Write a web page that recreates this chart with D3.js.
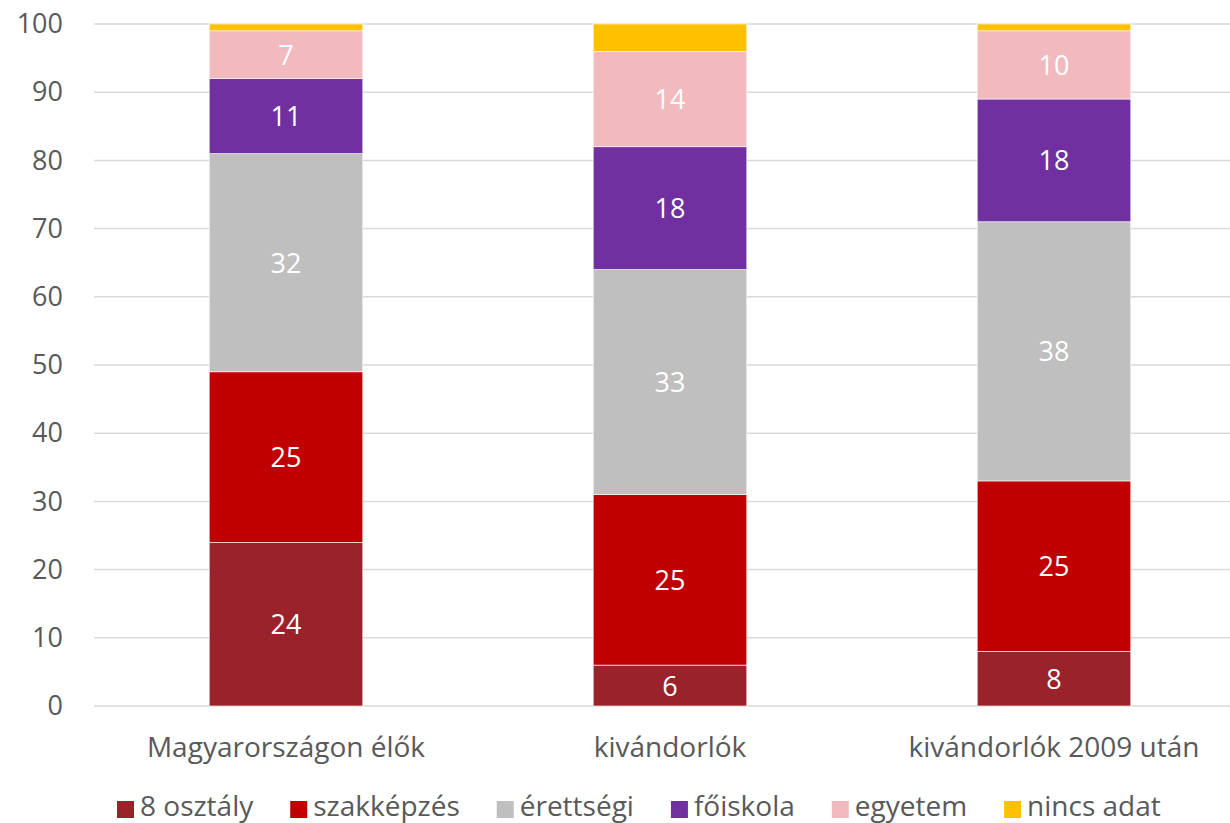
<!DOCTYPE html>
<html>
<head>
<meta charset="utf-8">
<script src="https://cdn.jsdelivr.net/npm/d3@7"></script>
<style>
  body { margin: 0; background: #fff; }
  svg { font-family: "Open Sans", "Noto Sans", sans-serif; }
</style>
</head>
<body>
<div class="chart"></div>
<script>
// data
var categories = ["Magyarországon élők", "kivándorlók", "kivándorlók 2009 után"];
var series = ["8 osztály", "szakképzés", "érettségi", "főiskola", "egyetem", "nincs adat"];
var osztaly8   = [24, 6, 8];
var szakkepzes = [25, 25, 25];
var erettsegi  = [32, 33, 38];
var foiskola   = [11, 18, 18];
var egyetem    = [7, 14, 10];
var nincsAdat  = [1, 4, 1];
var yTicks = [0, 10, 20, 30, 40, 50, 60, 70, 80, 90, 100];
var colors = ["#9a222b", "#c00000", "#bfbfbf", "#7030a0", "#f0babe", "#ffc000"];

var values = [osztaly8, szakkepzes, erettsegi, foiskola, egyetem, nincsAdat];
var rows = categories.map(function(c, i) {
  var r = { cat: c };
  series.forEach(function(s, j) { r[s] = values[j][i]; });
  return r;
});

var W = 1230, H = 823;
var margin = {top: 24, left: 94, bottom: 117};

var svg = d3.select(".chart").append("svg")
    .attr("width", W).attr("height", H);

var x = d3.scaleBand().domain(categories).range([margin.left, margin.left + 384 * 3])
    .paddingInner(0.6).paddingOuter(0.3);
var y = d3.scaleLinear().domain([0, 100]).range([H - margin.bottom, margin.top]);

// gridlines
svg.append("g").selectAll("line").data(yTicks).enter().append("line")
    .attr("x1", margin.left).attr("x2", W)
    .attr("y1", function(d) { return y(d); }).attr("y2", function(d) { return y(d); })
    .style("stroke", "#d9d9d9").style("stroke-width", 1.5);

// y axis labels
var yAxis = svg.append("g")
    .attr("transform", "translate(" + (margin.left - 31) + ",0)")
    .call(d3.axisLeft(y).tickValues(yTicks).tickSize(0).tickPadding(0));
yAxis.select(".domain").remove();
yAxis.selectAll("text").style("font-size", "27px").style("fill", "#595959")
    .style("font-family", "'Open Sans', 'Noto Sans', sans-serif");

// stacked bars
var stack = d3.stack().keys(series)(rows);
var layer = svg.selectAll(".layer").data(stack).enter().append("g")
    .attr("class", "layer")
    .style("fill", function(d, i) { return colors[i]; });

layer.selectAll("rect").data(function(d) { return d; }).enter().append("rect")
    .attr("x", function(d) { return x(d.data.cat); })
    .attr("width", x.bandwidth())
    .attr("y", function(d) { return y(d[1]); })
    .attr("height", function(d) { return y(d[0]) - y(d[1]); })
    .style("stroke", "#fff").style("stroke-width", 0.6);

// data labels (not for "nincs adat")
layer.filter(function(d) { return d.key !== "nincs adat"; })
  .selectAll("text").data(function(d) { return d; }).enter().append("text")
    .attr("x", function(d) { return x(d.data.cat) + x.bandwidth() / 2; })
    .attr("y", function(d) { return (y(d[0]) + y(d[1])) / 2; })
    .attr("dy", "0.37em")
    .attr("text-anchor", "middle")
    .style("fill", "#fff").style("font-size", "27px")
    .text(function(d) { return d[1] - d[0]; });

// category axis
var xAxis = svg.append("g")
    .attr("transform", "translate(0," + (H - margin.bottom) + ")")
    .call(d3.axisBottom(x).tickSize(0).tickPadding(31));
xAxis.select(".domain").remove();
xAxis.selectAll("text").style("font-size", "28px").style("fill", "#595959")
    .style("font-family", "'Open Sans', 'Noto Sans', sans-serif");

// legend
var legend = svg.append("g").attr("transform", "translate(117,0)");
var lx = 0;
series.forEach(function(s, i) {
  var g = legend.append("g").attr("transform", "translate(" + lx + ",0)");
  g.append("rect").attr("x", 0).attr("y", 801).attr("width", 17).attr("height", 17)
      .style("fill", colors[i]);
  var t = g.append("text").attr("x", 23).attr("y", 816)
      .style("font-size", "28px").style("fill", "#595959").text(s);
  lx += 23 + t.node().getComputedTextLength() + 37;
});
</script>
</body>
</html>
